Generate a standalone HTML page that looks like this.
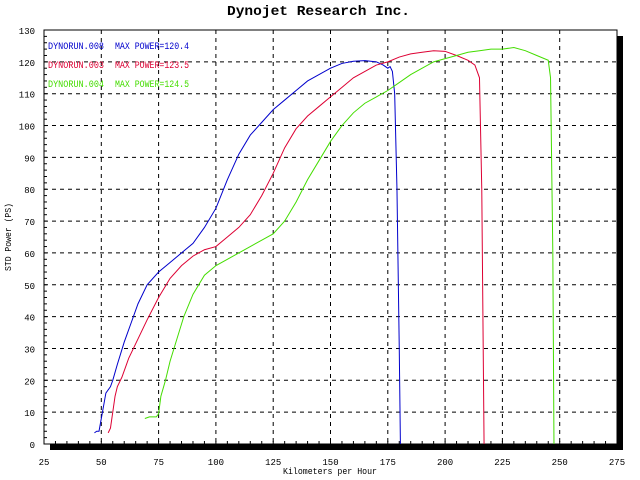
<!DOCTYPE html>
<html><head><meta charset="utf-8"><style>
body{margin:0;background:#fff;}
svg{display:block;font-family:"Liberation Mono",monospace;}
</style></head><body>
<svg id="c" width="640" height="480" xmlns="http://www.w3.org/2000/svg">
<text x="227" y="15" font-size="14" font-weight="bold" textLength="183" lengthAdjust="spacingAndGlyphs">Dynojet  Research  Inc.</text>
<text transform="translate(11,237) rotate(-90)" text-anchor="middle" font-size="9" textLength="68" lengthAdjust="spacingAndGlyphs">STD Power (PS)</text>
<text x="283" y="474" font-size="9" textLength="94" lengthAdjust="spacingAndGlyphs">Kilometers per Hour</text>
<g id="grid"></g><g id="series"></g>
</svg>
<script>
const xTicks=[25,50,75,100,125,150,175,200,225,250,275];
const yTicks=[0,10,20,30,40,50,60,70,80,90,100,110,120,130];
const blueSpeed=[47,48,49,50,51,52,54,55,57,60,63,66,70,75,80,85,90,95,100,105,110,115,120,125,130,135,140,145,150,155,160,165,170,173,175,176,177,178,179,180,180.5];
const bluePower=[3.5,4,4,8,12,16,18,20,25,32,38,44,50,54,57,60,63,68,74,83,91,97,101,105,108,111,114,116,118,119.5,120.2,120.4,120,119,118,118.5,117,110,80,30,0];
const redSpeed=[53,54,55,56,57,59,62,66,70,75,80,85,90,95,100,105,110,115,120,125,130,135,140,145,150,155,160,165,170,175,180,185,190,195,200,205,210,213,215,216,217];
const redPower=[3.5,5,10,15,18,21,27,33,39,46,52,56,59,61,62,65,68,72,78,85,93,99,103,106,109,112,115,117,119,120,121.5,122.5,123,123.5,123.3,122,120.5,119,115,80,0];
const greenSpeed=[69,71,74,75,76,78,80,83,86,90,95,100,105,110,115,120,125,130,135,140,145,150,155,160,165,170,175,180,185,190,195,200,205,210,215,220,225,230,235,240,245,246,247,247.5];
const greenPower=[8,8.5,8.5,9.5,15,20,26,33,40,47,53,56,58,60,62,64,66,70,76,83,89,95,100,104,107,109,111,113.5,116,118,120,121,122,123,123.5,124,124,124.5,123.5,122,120.5,115,60,0];
const legendNames=["DYNORUN.008","DYNORUN.003","DYNORUN.004"];
const legendMax=["120.4","123.5","124.5"];
const colors=["#0000cc","#dd0033","#44dd00"];
const X0=44,X1=617,Y0=444,Y1=30;
const sx=v=>X0+(v-25)*(X1-X0)/250;
const sy=v=>Y0-v*(Y0-Y1)/130;
const NS="http://www.w3.org/2000/svg";
const g=document.getElementById('grid'),s=document.getElementById('series');
function mk(tag,attrs,parent){const e=document.createElementNS(NS,tag);for(const k in attrs)e.setAttribute(k,attrs[k]);parent.appendChild(e);return e;}
let e;
e=mk('rect',{x:617,y:36,width:6,height:414,fill:'#000'},g);


e=mk('rect',{x:50,y:444,width:573,height:6,fill:'#000'},g);


e=mk('rect',{x:X0,y:Y1,width:X1-X0,height:Y0-Y1,fill:'#fff',stroke:'#000','stroke-width':1},g);


xTicks.forEach(t=>{const x=sx(t);
 if(t>25&&t<275){e=mk('line',{x1:x,y1:Y1,x2:x,y2:Y0,stroke:'#000','stroke-dasharray':'4,4'},g);
 
 }
 e=mk('text',{x:x,y:Y0+21,'text-anchor':'middle','font-size':'9'},g);e.textContent=t;
 
 
});
for(let v=30;v<275;v+=5){const x=sx(v);mk('line',{x1:x,y1:Y0-3,x2:x,y2:Y0,stroke:'#000'},g);}
yTicks.forEach(t=>{const y=sy(t);
 if(t>0&&t<130){e=mk('line',{x1:X0,y1:y,x2:X1,y2:y,stroke:'#000','stroke-dasharray':'4,4'},g);
 
 }
 e=mk('text',{x:35,y:y+4,'text-anchor':'end','font-size':'9'},g);e.textContent=t;
 
 
});
for(let v=0;v<=130;v+=2){const y=sy(v);mk('line',{x1:X0,y1:y,x2:X0+3,y2:y,stroke:'#000'},g);}
const data=[[blueSpeed,bluePower],[redSpeed,redPower],[greenSpeed,greenPower]];
data.forEach((d,i)=>{
 e=mk('polyline',{points:d[0].map((v,j)=>sx(v)+','+sy(d[1][j])).join(' '),fill:'none',stroke:colors[i],'stroke-width':1},s);
 
 
 e=mk('text',{x:48,y:49+i*19,fill:colors[i],'font-size':'10',textLength:'56',lengthAdjust:'spacingAndGlyphs'},s);
 e.textContent=legendNames[i];
 
 
 e=mk('text',{x:115,y:49+i*19,fill:colors[i],'font-size':'10',textLength:'74',lengthAdjust:'spacingAndGlyphs'},s);
 e.textContent='MAX POWER='+legendMax[i];
 
 
});
</script>
</body></html>
